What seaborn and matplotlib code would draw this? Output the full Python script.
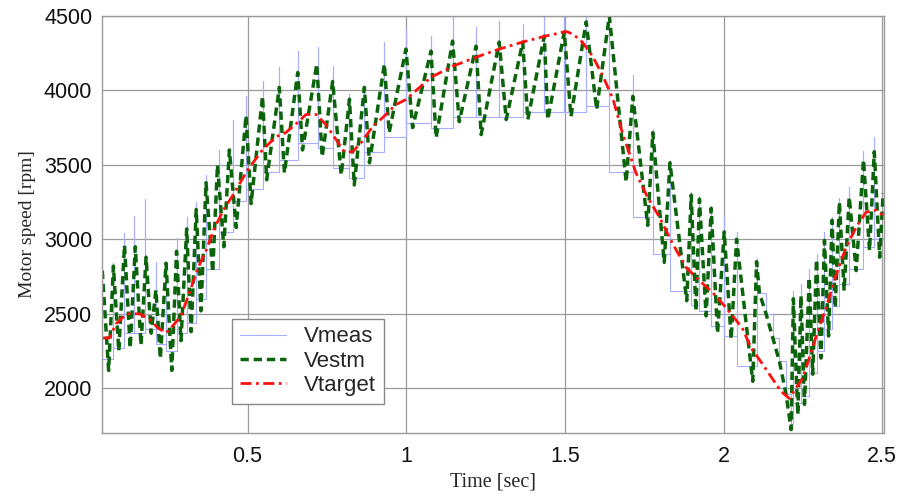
import numpy as np
import pandas as pd
import seaborn as sns
import matplotlib.pyplot as plt

# Vestm: estimated speed, read off the chart as alternating peaks / troughs
est_t = [0.042, 0.062, 0.077, 0.094, 0.112, 0.130, 0.146, 0.164, 0.180, 0.196,
         0.211, 0.225, 0.243, 0.261, 0.276, 0.290, 0.308, 0.322, 0.338, 0.353,
         0.369, 0.390, 0.405, 0.425, 0.4425, 0.464, 0.495, 0.511, 0.547, 0.560,
         0.600, 0.616, 0.658, 0.673, 0.718, 0.735, 0.768, 0.795, 0.821, 0.836,
         0.868, 0.884, 0.931, 0.946, 0.999, 1.020, 1.078, 1.094, 1.146, 1.167,
         1.220, 1.236, 1.293, 1.315, 1.367, 1.383, 1.435, 1.446, 1.498, 1.519,
         1.567, 1.600, 1.640, 1.693, 1.714, 1.761, 1.777, 1.813, 1.831, 1.884,
         1.898, 1.913, 1.924, 1.945, 1.961, 1.981, 2.002, 2.024, 2.041, 2.092,
         2.104, 2.113, 2.134, 2.155, 2.176, 2.197, 2.213, 2.220, 2.234, 2.244,
         2.255, 2.270, 2.281, 2.293, 2.307, 2.318, 2.331, 2.342, 2.352, 2.365,
         2.380, 2.396, 2.418, 2.441, 2.460, 2.475, 2.492, 2.503]
est_v = [2790, 2120, 2820, 2250, 2960, 2270, 2950, 2290, 2880, 2370,
         2660, 2200, 2840, 2120, 2920, 2320, 3070, 2380, 3200, 2520,
         3380, 2780, 3500, 2950, 3600, 3080, 3830, 3240, 3960, 3400,
         4020, 3446, 4120, 3600, 4176, 3554, 4060, 3432, 3940, 3365,
         4020, 3514, 4176, 3716, 4277, 3750, 4264, 3682, 4331, 3790,
         4297, 3703, 4324, 3804, 4324, 3804, 4365, 3804, 4392, 3824,
         4460, 3872, 4500, 3385, 3960, 3094, 3716, 2845, 3514, 2588,
         3297, 2520, 3270, 2486, 3209, 2370, 3050, 2330, 3000, 2047,
         2850, 2640, 2500, 2340, 2180, 1960, 1723, 2601, 1824, 2622,
         1892, 2743, 2095, 2865, 2203, 2993, 2351, 3128, 2541, 3250,
         2655, 3284, 2790, 3534, 2925, 3588, 2880, 3311]

# Vmeas: sampled speed -> step instants, spike tops and held levels
meas_t = [0.041, 0.077, 0.112, 0.143, 0.178, 0.211, 0.243, 0.276, 0.308, 0.338,
          0.369, 0.410, 0.453, 0.495, 0.547, 0.600, 0.658, 0.721, 0.768, 0.821,
          0.868, 0.931, 0.999, 1.078, 1.146, 1.220, 1.293, 1.367, 1.435, 1.498,
          1.567, 1.640, 1.714, 1.777, 1.831, 1.898, 1.924, 1.961, 2.002, 2.041,
          2.104, 2.134, 2.155, 2.176, 2.197, 2.213, 2.220, 2.244, 2.270, 2.293,
          2.318, 2.342, 2.365, 2.396, 2.441, 2.475]
meas_spike = [2750, 2840, 3040, 3155, 3270, 2850, 2850, 3010, 3150, 3250,
              3430, 3600, 3800, 3960, 4060, 4160, 4264, 4291, 4162, 3973,
              4020, 4324, 4412, 4365, 4500, 4426, 4466, 4446, 4493, 4500,
              4500, 4500, 4100, 3740, 3520, 3320, 3290, 3220, 3150, 3050,
              2872, 2500, 2340, 2180, 1960, 1760, 2650, 2700, 2800, 2900,
              3050, 3150, 3280, 3350, 3590, 3690]
meas_level = [2200, 2270, 2370, 2370, 2400, 2300, 2250, 2370, 2440, 2600,
              2800, 3050, 3260, 3340, 3450, 3530, 3649, 3615, 3480, 3412,
              3588, 3689, 3784, 3750, 3824, 3820, 3824, 3858, 3858, 3858,
              3892, 3450, 3150, 2900, 2650, 2560, 2520, 2420, 2350, 2150,
              2640, 2500, 2340, 2180, 1960, 1760, 1900, 1950, 2100, 2250,
              2400, 2550, 2700, 2800, 2950, 3000]
meas_start = 1650
meas_end_t = 2.51

# Vtarget: reference speed
tgt_t = [0.041, 0.064, 0.085, 0.101, 0.121, 0.159, 0.190, 0.217, 0.243, 0.264,
         0.290, 0.311, 0.343, 0.369, 0.395, 0.427, 0.452, 0.500, 0.547, 0.590,
         0.620, 0.657, 0.684, 0.716, 0.747, 0.779, 0.805, 0.831, 0.858, 0.894,
         0.926, 0.968, 0.999, 1.078, 1.146, 1.230, 1.293, 1.366, 1.440, 1.504,
         1.525, 1.555, 1.587, 1.620, 1.652, 1.681, 1.724, 1.760, 1.798, 1.839,
         1.882, 1.924, 1.966, 2.008, 2.059, 2.087, 2.123, 2.155, 2.181, 2.207,
         2.228, 2.249, 2.270, 2.292, 2.323, 2.354, 2.386, 2.418, 2.449, 2.481,
         2.501]
tgt_v = [2338, 2338, 2432, 2466, 2500, 2500, 2466, 2405, 2372, 2419,
         2486, 2608, 2804, 2926, 3074, 3209, 3290, 3466, 3601, 3689,
         3716, 3784, 3838, 3838, 3770, 3669, 3588, 3588, 3649, 3757,
         3818, 3905, 3939, 4088, 4162, 4230, 4277, 4324, 4365, 4395,
         4378, 4324, 4230, 4095, 3939, 3716, 3446, 3284, 3149, 2973,
         2811, 2723, 2642, 2541, 2405, 2270, 2162, 2061, 1980, 1932,
         2000, 2068, 2203, 2351, 2541, 2757, 2946, 3081, 3182, 3196,
         3162]

xticks = [0.5, 1, 1.5, 2, 2.5]
xtick_labels = ['0.5', '1', '1.5', '2', '2.5']
yticks = [2000, 2500, 3000, 3500, 4000, 4500]

# build staircase with one-sample spikes for Vmeas
mx = [meas_t[0]]
my = [meas_start]
prev = meas_start
for t, s, l in zip(meas_t, meas_spike, meas_level):
    mx += [t, t, t]
    my += [prev, s, l]
    prev = l
mx.append(meas_end_t)
my.append(prev)
meas_df = pd.DataFrame({'t': mx, 'v': my})
est_df = pd.DataFrame({'t': est_t, 'v': est_v})
tgt_df = pd.DataFrame({'t': tgt_t, 'v': tgt_v})

sns.set_theme(style='white')
plt.rcParams['font.family'] = ['Liberation Sans', 'DejaVu Sans']

fig, ax = plt.subplots(figsize=(9, 4.96), dpi=100)
fig.subplots_adjust(left=0.1133, right=0.982, top=0.968, bottom=0.127)

sns.lineplot(data=meas_df, x='t', y='v', ax=ax, sort=False, estimator=None,
             color='#a7adff', linewidth=0.8, label='Vmeas')
sns.lineplot(data=est_df, x='t', y='v', ax=ax, sort=False, estimator=None,
             color='#0b640b', linewidth=2.5, linestyle=(0, (2.4, 1.4)), label='Vestm')
sns.lineplot(data=tgt_df, x='t', y='v', ax=ax, sort=False, estimator=None,
             color='#ff1010', linewidth=2.0, linestyle=(0, (4, 1.6, 1, 1.6)), label='Vtarget')

ax.set_xlim(0.041, 2.505)
ax.set_ylim(1700, 4500)
ax.set_xticks(xticks)
ax.set_xticklabels(xtick_labels)
ax.set_yticks(yticks)
ax.grid(True, color='#9a9a9a', linewidth=0.9)
for sp in ax.spines.values():
    sp.set_color('#9a9a9a')
    sp.set_linewidth(1.0)
ax.tick_params(axis='both', labelsize=15.5, length=0, colors='#111111')
ax.tick_params(axis='x', pad=9)
ax.tick_params(axis='y', pad=7)

ax.set_xlabel('Time [sec]', family=['Liberation Serif', 'DejaVu Serif'], fontsize=14.5, labelpad=4)
ax.set_ylabel('Motor speed [rpm]', family=['Liberation Serif', 'DejaVu Serif'], fontsize=14, labelpad=6)

ax.legend(loc='lower left', bbox_to_anchor=(0.166, 0.07), borderaxespad=0,
          fontsize=16, frameon=True, fancybox=False, framealpha=1,
          edgecolor='#888888', handlelength=2.1, handletextpad=0.8,
          labelspacing=0.15, borderpad=0.35)

fig.savefig('out.png', dpi=100)
